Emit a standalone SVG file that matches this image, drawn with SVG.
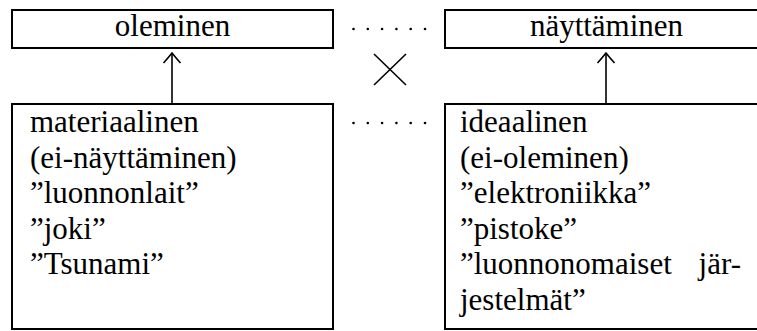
<svg xmlns="http://www.w3.org/2000/svg" width="757" height="331" viewBox="0 0 757 331">
<style>
.box{fill:#fff;stroke:#000;stroke-width:2}
.t{font-family:'Liberation Serif','Times New Roman','DejaVu Serif',serif;font-size:31px;fill:#000}
.c{text-anchor:middle}
.ln{stroke:#000;stroke-width:1.6;fill:none}
.dot{fill:#000}
</style>
<defs>
<marker id="ah" markerWidth="14" markerHeight="20" refX="13" refY="10" orient="auto" markerUnits="userSpaceOnUse" viewBox="0 0 14 20">
<path d="M3,1.5 Q8,6 13,10 Q8,14 3,18.5" fill="none" stroke="#000" stroke-width="1.6"/>
</marker>
</defs>
<g id="oleminen">
<rect class="box" x="12" y="10" width="321" height="38"/>
<text class="t c" x="172.5" y="36" font-family="Liberation Serif, serif">oleminen</text>
</g>
<g id="nayttaminen">
<rect class="box" x="445" y="10" width="324" height="38"/>
<text class="t c" x="606.5" y="36">näyttäminen</text>
</g>
<g id="materiaalinen">
<rect class="box" x="12" y="104" width="321" height="225"/>
<text class="t" x="30" y="132">materiaalinen</text>
<text class="t" x="30" y="168">(ei-näyttäminen)</text>
<text class="t" x="30" y="203">”luonnonlait”</text>
<text class="t" x="30" y="239">”joki”</text>
<text class="t" x="30" y="274">”Tsunami”</text>
</g>
<g id="ideaalinen">
<rect class="box" x="445" y="104" width="324" height="225"/>
<text class="t" x="460" y="132">ideaalinen</text>
<text class="t" x="460" y="168">(ei-oleminen)</text>
<text class="t" x="460" y="203">”elektroniikka”</text>
<text class="t" x="460" y="239">”pistoke”</text>
<text class="t" x="460" y="274">”luonnonomaiset</text>
<text class="t" x="741" y="274" text-anchor="end">jär-</text>
<text class="t" x="460" y="310">jestelmät”</text>
</g>
<g id="connectors">
<line class="ln" x1="172" y1="104" x2="172" y2="53" marker-end="url(#ah)"/>
<line class="ln" x1="606" y1="104" x2="606" y2="53" marker-end="url(#ah)"/>
<g class="dot">
<circle cx="353.5" cy="29" r="1.3"/><circle cx="367.8" cy="29" r="1.3"/><circle cx="382.1" cy="29" r="1.3"/><circle cx="396.4" cy="29" r="1.3"/><circle cx="410.7" cy="29" r="1.3"/><circle cx="425" cy="29" r="1.3"/>
<circle cx="353.5" cy="123" r="1.3"/><circle cx="367.8" cy="123" r="1.3"/><circle cx="382.1" cy="123" r="1.3"/><circle cx="396.4" cy="123" r="1.3"/><circle cx="410.7" cy="123" r="1.3"/><circle cx="425" cy="123" r="1.3"/>
</g>
<path class="ln" d="M374,54 L406,85 M406,54 L374,85"/>
</g>
</svg>
